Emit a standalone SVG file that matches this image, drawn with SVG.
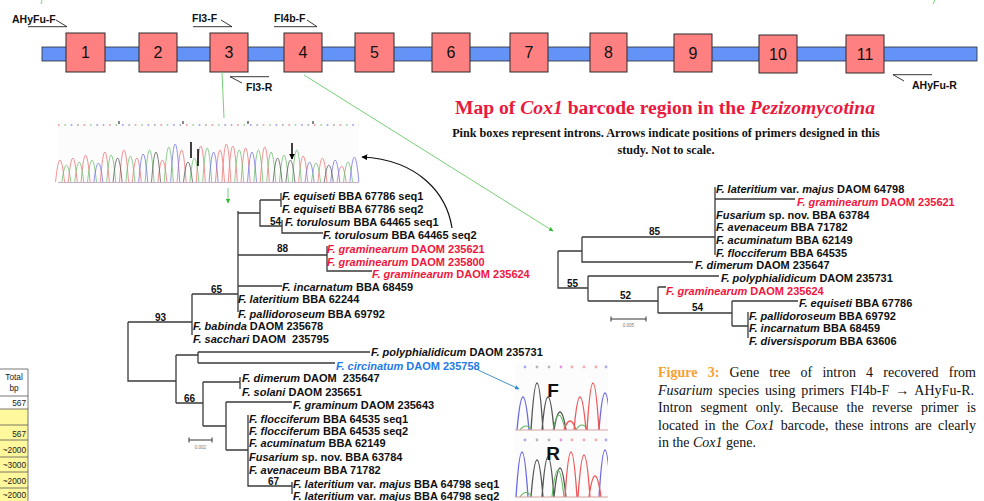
<svg xmlns="http://www.w3.org/2000/svg" width="984" height="501" viewBox="0 0 984 501">
<defs>
<style>
.bar{fill:#6393f6;stroke:#2b2b2b;stroke-width:0.8}
.intron{fill:#ff8080;stroke:#2a2a2a;stroke-width:1}
.num{font:16px "Liberation Sans",Arial,sans-serif;fill:#111;text-anchor:middle}
.pl{font:bold 10.5px "Liberation Sans",Arial,sans-serif;fill:#111}
.pr{fill:none;stroke:#222;stroke-width:0.9}
.tl{font:bold 11px "Liberation Sans",Arial,sans-serif;fill:#111}
.i{font-style:italic}
.red{fill:#f0163c}
.blue{fill:#1f7ae6}
.bs{font:bold 10px "Liberation Sans",Arial,sans-serif;fill:#111}
.br{fill:none;stroke:#3a3a3a;stroke-width:1.3}
.sc{font:4.5px "Liberation Sans",Arial,sans-serif;fill:#777;text-anchor:middle}
.cap{font:14px "Liberation Serif","Times New Roman",serif;fill:#111}
.fig{font-weight:bold;fill:#f5a234}
.tab{font:8.3px "Liberation Sans",Arial,sans-serif;fill:#222}
.tline{stroke:#555;stroke-width:0.8;fill:none}
.pkR{fill:none;stroke:#ee7070;stroke-width:1;opacity:0.75}
.pkG{fill:none;stroke:#6cbf6c;stroke-width:1;opacity:0.75}
.pkB{fill:none;stroke:#7070e0;stroke-width:1;opacity:0.75}
.pkK{fill:none;stroke:#555;stroke-width:1;opacity:0.75}
.gl{stroke:#66cc66;stroke-width:0.9;fill:none}
</style>
<marker id="ak" viewBox="0 0 10 10" refX="9" refY="5" markerWidth="5" markerHeight="5" orient="auto"><path d="M0,0L10,5L0,10z" fill="#000"/></marker>
<marker id="ak2" viewBox="0 0 10 10" refX="9" refY="5" markerWidth="4" markerHeight="4" orient="auto"><path d="M0,0L10,5L0,10z" fill="#000"/></marker>
<marker id="ag" viewBox="0 0 10 10" refX="9" refY="5" markerWidth="5" markerHeight="5" orient="auto"><path d="M0,0L10,5L0,10z" fill="#33bb33"/></marker>
<marker id="ab" viewBox="0 0 10 10" refX="9" refY="5" markerWidth="5" markerHeight="5" orient="auto"><path d="M0,0L10,5L0,10z" fill="#2a88c8"/></marker>
<clipPath id="fclip"><rect x="515" y="360" width="93" height="141"/></clipPath>
</defs>
<rect width="984" height="501" fill="#fff"/>

<!-- gene map -->
<g id="cox1-map">
<rect class="bar" x="42" y="47" width="935" height="14"/>
<g id="intron1"><rect class="intron" x="66" y="33" width="39" height="39"/><text class="num" x="85.5" y="58">1</text></g>
<g id="intron2"><rect class="intron" x="139" y="33" width="38" height="39"/><text class="num" x="158" y="58">2</text></g>
<g id="intron3"><rect class="intron" x="210" y="33" width="38" height="39"/><text class="num" x="229" y="58">3</text></g>
<g id="intron4"><rect class="intron" x="284" y="33" width="38" height="39"/><text class="num" x="303" y="58">4</text></g>
<g id="intron5"><rect class="intron" x="355" y="33" width="39" height="39"/><text class="num" x="374.5" y="58">5</text></g>
<g id="intron6"><rect class="intron" x="432" y="33" width="38" height="39"/><text class="num" x="451" y="58">6</text></g>
<g id="intron7"><rect class="intron" x="510" y="33" width="38" height="39"/><text class="num" x="529" y="58">7</text></g>
<g id="intron8"><rect class="intron" x="590" y="33" width="37" height="39"/><text class="num" x="608.5" y="58">8</text></g>
<g id="intron9"><rect class="intron" x="674" y="34" width="38" height="38"/><text class="num" x="693" y="59">9</text></g>
<g id="intron10"><rect class="intron" x="759" y="35" width="38" height="38"/><text class="num" x="778" y="60">10</text></g>
<g id="intron11"><rect class="intron" x="846" y="35" width="38" height="38"/><text class="num" x="865" y="60">11</text></g>
</g>

<!-- primers -->
<g id="primer-AHyFu-F"><path class="pr" d="M28,26.7H67L56,20"/><text class="pl" x="12" y="23">AHyFu-F</text></g>
<g id="primer-FI3-F"><path class="pr" d="M193,26.7H232L221,20"/><text class="pl" x="192" y="22">FI3-F</text></g>
<g id="primer-FI4b-F"><path class="pr" d="M274,26.7H317L307,20"/><text class="pl" x="274" y="22">FI4b-F</text></g>
<g id="primer-FI3-R"><path class="pr" d="M269,76.7H230L242,83"/><text class="pl" x="246" y="91">FI3-R</text></g>
<g id="primer-AHyFu-R"><path class="pr" d="M932,74.7H893L904,81"/><text class="pl" x="912" y="89">AHyFu-R</text></g>

<!-- title -->
<g id="title">
<text x="665" y="114" text-anchor="middle" style="font:bold 19.6px 'Liberation Serif','Times New Roman',serif;fill:#ea1a3e">Map of <tspan class="i">Cox1</tspan> barcode region in the <tspan class="i">Pezizomycotina</tspan></text>
<text x="666" y="137" text-anchor="middle" style="font:bold 12.2px 'Liberation Serif','Times New Roman',serif;fill:#111">Pink boxes represent introns. Arrows indicate positions of primers designed in this</text>
<text x="666" y="154" text-anchor="middle" style="font:bold 12.2px 'Liberation Serif','Times New Roman',serif;fill:#111">study. Not to scale.</text>
</g>

<!-- chromatogram intron 3 -->
<g id="chromatogram-intron3">
<rect x="58" y="121" width="301" height="63" fill="#fcfcfc"/>
<line x1="58" y1="125" x2="359" y2="125" stroke="#e88" stroke-width="1.6" stroke-dasharray="1.5 24.1"/>
<line x1="64.4" y1="125" x2="359" y2="125" stroke="#8c8" stroke-width="1.6" stroke-dasharray="1.5 24.1"/>
<line x1="70.8" y1="125" x2="359" y2="125" stroke="#88e" stroke-width="1.6" stroke-dasharray="1.5 24.1"/>
<line x1="77.2" y1="125" x2="359" y2="125" stroke="#999" stroke-width="1.6" stroke-dasharray="1.5 24.1"/>
<path d="M119,121V124M183,121V124M248,121V124M313,121V124" stroke="#888" stroke-width="2"/>
<path class="pkR" d="M55.5,182Q60,138 64.5,182M68.3,182Q72.8,134 77.3,182M81.1,182Q85.6,128 90.1,182M100.3,182Q104.8,122 109.3,182M119.5,182Q124,118 128.5,182M132.3,182Q136.8,134 141.3,182M157.9,182Q162.4,138 166.9,182M177.1,182Q181.6,118 186.1,182M196.3,182Q200.8,110 205.3,182M215.5,182Q220,118 224.5,182M221.9,182Q226.4,106 230.9,182M228.3,182Q232.8,110 237.3,182M241.1,182Q245.6,114 250.1,182M260.3,182Q264.8,112 269.3,182M298.7,182Q303.2,130 307.7,182M317.9,182Q322.4,134 326.9,182M337.1,182Q341.6,150 346.1,182"/>
<path class="pkG" d="M61.9,182Q66.4,148 70.9,182M74.7,182Q79.2,142 83.7,182M87.5,182Q92,138 96.5,182M106.7,182Q111.2,128 115.7,182M125.9,182Q130.4,130 134.9,182M145.1,182Q149.6,118 154.1,182M164.3,182Q168.8,112 173.3,182M189.9,182Q194.4,134 198.9,182M202.7,182Q207.2,114 211.7,182M234.7,182Q239.2,118 243.7,182M253.9,182Q258.4,118 262.9,182M266.7,182Q271.2,122 275.7,182M279.5,182Q284,128 288.5,182M292.3,182Q296.8,118 301.3,182M311.5,182Q316,144 320.5,182M343.5,182Q348,142 352.5,182"/>
<path class="pkB" d="M93.9,182Q98.4,144 102.9,182M138.7,182Q143.2,126 147.7,182M170.7,182Q175.2,106 179.7,182M209.1,182Q213.6,122 218.1,182M247.5,182Q252,122 256.5,182M305.1,182Q309.6,142 314.1,182M330.7,182Q335.2,138 339.7,182M349.9,182Q354.4,132 358.9,182"/>
<path class="pkK" d="M113.1,182Q117.6,134 122.1,182M151.5,182Q156,122 160.5,182M183.5,182Q188,142 192.5,182M273.1,182Q277.6,134 282.1,182M285.9,182Q290.4,138 294.9,182M324.3,182Q328.8,148 333.3,182"/>
<line x1="58" y1="182.5" x2="359" y2="182.5" stroke="#c9b0c9" stroke-width="1"/>
<path d="M191,142V158M198,149V166M292,143V159" stroke="#000" stroke-width="1.5" marker-end="url(#ak2)"/>
</g>

<!-- chromatogram F/R -->
<g id="chromatogram-FR" clip-path="url(#fclip)">
<rect x="515" y="362" width="93" height="139" fill="#fcfcfc"/>
<g fill-opacity="0.7">
<circle cx="525" cy="367" r="1.4" fill="#88e"/><circle cx="537" cy="367" r="1.4" fill="#999"/><circle cx="549" cy="367" r="1.4" fill="#999"/><circle cx="561" cy="367" r="1.4" fill="#d6d"/><circle cx="572" cy="367" r="1.4" fill="#e88"/><circle cx="584" cy="367" r="1.4" fill="#e88"/><circle cx="596" cy="367" r="1.4" fill="#e88"/><circle cx="606" cy="367" r="1.4" fill="#88e"/>
<circle cx="525" cy="440" r="1.4" fill="#88e"/><circle cx="537" cy="440" r="1.4" fill="#999"/><circle cx="549" cy="440" r="1.4" fill="#999"/><circle cx="561" cy="440" r="1.4" fill="#d6d"/><circle cx="572" cy="440" r="1.4" fill="#e88"/><circle cx="584" cy="440" r="1.4" fill="#e88"/><circle cx="596" cy="440" r="1.4" fill="#e88"/><circle cx="606" cy="440" r="1.4" fill="#88e"/>
</g>
<path d="M517,430Q523,364 529,430M599,430Q605,356 611,430" fill="none" stroke="#6a6ae0" stroke-width="1.3"/>
<path d="M531,430Q537,336 543,430M542,430Q548,364 554,430M554,430Q560,394 566,430" fill="none" stroke="#555" stroke-width="1.3"/>
<path d="M553,430Q559,400 565,430M520,430Q526,422 532,430M576,430Q582,420 588,430" fill="none" stroke="#5cb85c" stroke-width="1.1"/>
<path d="M564,430Q570,412 576,430M574,430Q580,364 586,430M587,430Q593,336 599,430" fill="none" stroke="#ee5a5a" stroke-width="1.3"/>
<line x1="515" y1="430" x2="608" y2="430" stroke="#d9a0a0" stroke-width="1"/>
<path d="M516,497Q522,407 528,497M599,497Q605,403 611,497" fill="none" stroke="#6a6ae0" stroke-width="1.3"/>
<path d="M531,497Q537,423 543,497M542,497Q548,417 554,497M554,497Q560,439 566,497" fill="none" stroke="#555" stroke-width="1.3"/>
<path d="M552,497Q558,443 564,497M520,497Q526,488 532,497" fill="none" stroke="#5cb85c" stroke-width="1.1"/>
<path d="M565,497Q571,407 577,497M578,497Q584,413 590,497M589,497Q595,455 601,497" fill="none" stroke="#ee5a5a" stroke-width="1.3"/>
<line x1="515" y1="497" x2="608" y2="497" stroke="#d9a0a0" stroke-width="1"/>
<text x="553" y="397" text-anchor="middle" style="font:bold 19px 'Liberation Sans',Arial,sans-serif;fill:#111">F</text>
<text x="553" y="460" text-anchor="middle" style="font:bold 19px 'Liberation Sans',Arial,sans-serif;fill:#111">R</text>
</g>

<!-- connectors -->
<g id="connectors">
<path class="gl" d="M42,0L41,4M935,0L933,4"/>
<path class="gl" d="M222,72L224,118"/>
<path class="gl" d="M228,188V203" marker-end="url(#ag)"/>
<path class="gl" d="M304,75L553,231" marker-end="url(#ag)"/>
<path d="M452,228C447,195 420,160 362,157" fill="none" stroke="#111" stroke-width="1.2" marker-end="url(#ak)"/>
<path d="M478,370L519,389" fill="none" stroke="#2a88c8" stroke-width="0.9" marker-end="url(#ab)"/>
</g>

<!-- left tree (intron 3) -->
<g id="tree-intron3">
<path class="br" d="M281,193V207M260,200H281M260,200V226H282M282,220V233H323M238,213H260M238,255H327M327,246V271H372M238,286H282M238,211V312M192,294H238M192,294V335M128,322H192M128,322V381H176M176,355V403M176,355H198M198,352V363M198,352H370M198,363H335M176,403H203M203,382V426M203,382H240M240,377V389M203,426H226M226,402V450M226,402H292M226,450H248M248,415V486H292M292,482V494"/>
<text class="bs" x="270" y="224.5">54</text>
<text class="bs" x="277" y="252">88</text>
<text class="bs" x="211" y="292.5">65</text>
<text class="bs" x="155" y="320.5">93</text>
<text class="bs" x="184" y="401.5">66</text>
<text class="bs" x="268" y="485">67</text>
<path d="M189,440H212M189,437.5V442.5M212,437.5V442.5" stroke="#333" stroke-width="1" fill="none"/>
<text class="sc" x="200.5" y="449">0.002</text>
<text class="tl" x="282" y="200"><tspan class="i">F. equiseti</tspan> BBA 67786 seq1</text>
<text class="tl" x="282" y="213"><tspan class="i">F. equiseti</tspan> BBA 67786 seq2</text>
<text class="tl" x="285" y="226"><tspan class="i">F. torulosum</tspan> BBA 64465 seq1</text>
<text class="tl" x="323" y="239"><tspan class="i">F. torulosum</tspan> BBA 64465 seq2</text>
<text class="tl red" x="327" y="253"><tspan class="i">F. graminearum</tspan> DAOM 235621</text>
<text class="tl red" x="327" y="266"><tspan class="i">F. graminearum</tspan> DAOM 235800</text>
<text class="tl red" x="372" y="278"><tspan class="i">F. graminearum</tspan> DAOM 235624</text>
<text class="tl" x="282" y="291"><tspan class="i">F. incarnatum</tspan> BBA 68459</text>
<text class="tl" x="238" y="303"><tspan class="i">F. lateritium</tspan> BBA 62244</text>
<text class="tl" x="238" y="318"><tspan class="i">F. pallidoroseum</tspan> BBA 69792</text>
<text class="tl" x="193" y="330"><tspan class="i">F. babinda</tspan> DAOM 235678</text>
<text class="tl" x="193" y="343" xml:space="preserve"><tspan class="i">F. sacchari</tspan> DAOM  235795</text>
<text class="tl" x="371" y="356"><tspan class="i">F. polyphialidicum</tspan> DAOM 235731</text>
<text class="tl blue" x="336" y="370"><tspan class="i">F. circinatum</tspan> DAOM 235758</text>
<text class="tl" x="242" y="382" xml:space="preserve"><tspan class="i">F. dimerum</tspan> DAOM  235647</text>
<text class="tl" x="242" y="396"><tspan class="i">F. solani</tspan> DAOM 235651</text>
<text class="tl" x="293" y="409"><tspan class="i">F. graminum</tspan> DAOM 235643</text>
<text class="tl" x="249" y="423"><tspan class="i">F. flocciferum</tspan> BBA 64535 seq1</text>
<text class="tl" x="249" y="435"><tspan class="i">F. flocciferum</tspan> BBA 64535 seq2</text>
<text class="tl" x="249" y="447"><tspan class="i">F. acuminatum</tspan> BBA 62149</text>
<text class="tl" x="249" y="461"><tspan class="i">Fusarium</tspan> sp. nov. BBA 63784</text>
<text class="tl" x="249" y="474"><tspan class="i">F. avenaceum</tspan> BBA 71782</text>
<text class="tl" x="293" y="488"><tspan class="i">F. lateritium</tspan> var. <tspan class="i">majus</tspan> BBA 64798 seq1</text>
<text class="tl" x="293" y="500"><tspan class="i">F. lateritium</tspan> var. <tspan class="i">majus</tspan> BBA 64798 seq2</text>
</g>

<!-- right tree (intron 4) -->
<g id="tree-intron4">
<path class="br" d="M715,187V255M715,199H795M582,237H715M582,237V262H693M558,251H582M558,251V288H588M588,276V301M588,276H719M588,301H658M658,287V313M658,287H666M658,313H732M732,301V326M732,301H798M732,326H748M748,312V338"/>
<text class="bs" x="649" y="235">85</text>
<text class="bs" x="567" y="286.5">55</text>
<text class="bs" x="620" y="299">52</text>
<text class="bs" x="692" y="311">54</text>
<path d="M611,319H646M611,316.5V321.5M646,316.5V321.5" stroke="#333" stroke-width="1" fill="none"/>
<text class="sc" x="628.5" y="327">0.005</text>
<text class="tl" x="716" y="193"><tspan class="i">F. lateritium</tspan> var. <tspan class="i">majus</tspan> DAOM 64798</text>
<text class="tl red" x="797" y="206"><tspan class="i">F. graminearum</tspan> DAOM 235621</text>
<text class="tl" x="716" y="219"><tspan class="i">Fusarium</tspan> sp. nov. BBA 63784</text>
<text class="tl" x="716" y="231"><tspan class="i">F. avenaceum</tspan> BBA 71782</text>
<text class="tl" x="716" y="244"><tspan class="i">F. acuminatum</tspan> BBA 62149</text>
<text class="tl" x="716" y="257"><tspan class="i">F. flocciferum</tspan> BBA 64535</text>
<text class="tl" x="695" y="269"><tspan class="i">F. dimerum</tspan> DAOM 235647</text>
<text class="tl" x="721" y="282"><tspan class="i">F. polyphialidicum</tspan> DAOM 235731</text>
<text class="tl red" x="666" y="295"><tspan class="i">F. graminearum</tspan> DAOM 235624</text>
<text class="tl" x="799" y="307"><tspan class="i">F. equiseti</tspan> BBA 67786</text>
<text class="tl" x="749" y="320"><tspan class="i">F. pallidoroseum</tspan> BBA 69792</text>
<text class="tl" x="749" y="332"><tspan class="i">F. incarnatum</tspan> BBA 68459</text>
<text class="tl" x="749" y="345"><tspan class="i">F. diversisporum</tspan> BBA 63606</text>
</g>

<!-- caption -->
<g id="caption">
<text class="cap" x="658" y="377" word-spacing="6.7" textLength="318" lengthAdjust="spacing"><tspan class="fig">Figure 3:</tspan> Gene tree of intron 4 recovered from</text>
<text class="cap" x="658" y="394.5" word-spacing="2.4" textLength="316" lengthAdjust="spacing"><tspan class="i">Fusarium</tspan> species using primers FI4b-F → AHyFu-R.</text>
<text class="cap" x="658" y="412" word-spacing="4.8" textLength="318" lengthAdjust="spacing">Intron segment only. Because the reverse primer is</text>
<text class="cap" x="658" y="429.5" word-spacing="2.7" textLength="318" lengthAdjust="spacing">located in the <tspan class="i">Cox1</tspan> barcode, these introns are clearly</text>
<text class="cap" x="658" y="447">in the <tspan class="i">Cox1</tspan> gene.</text>
</g>

<!-- partial table -->
<g id="table-fragment">
<rect x="0" y="409" width="28" height="92" fill="#fff89c"/>
<path class="tline" d="M0,369H28V501M0,396H28M0,409H28M0,425H28M0,440H28M0,457H28M0,472H28M0,488H28"/>
<text class="tab" x="14" y="380" text-anchor="middle">Total</text>
<text class="tab" x="14" y="391" text-anchor="middle">bp</text>
<text class="tab" x="26" y="406" text-anchor="end">567</text>
<text class="tab" x="26" y="437" text-anchor="end">567</text>
<text class="tab" x="26" y="453" text-anchor="end">~2000</text>
<text class="tab" x="26" y="468" text-anchor="end">~3000</text>
<text class="tab" x="26" y="484" text-anchor="end">~2000</text>
<text class="tab" x="26" y="498" text-anchor="end">~2000</text>
</g>
</svg>
